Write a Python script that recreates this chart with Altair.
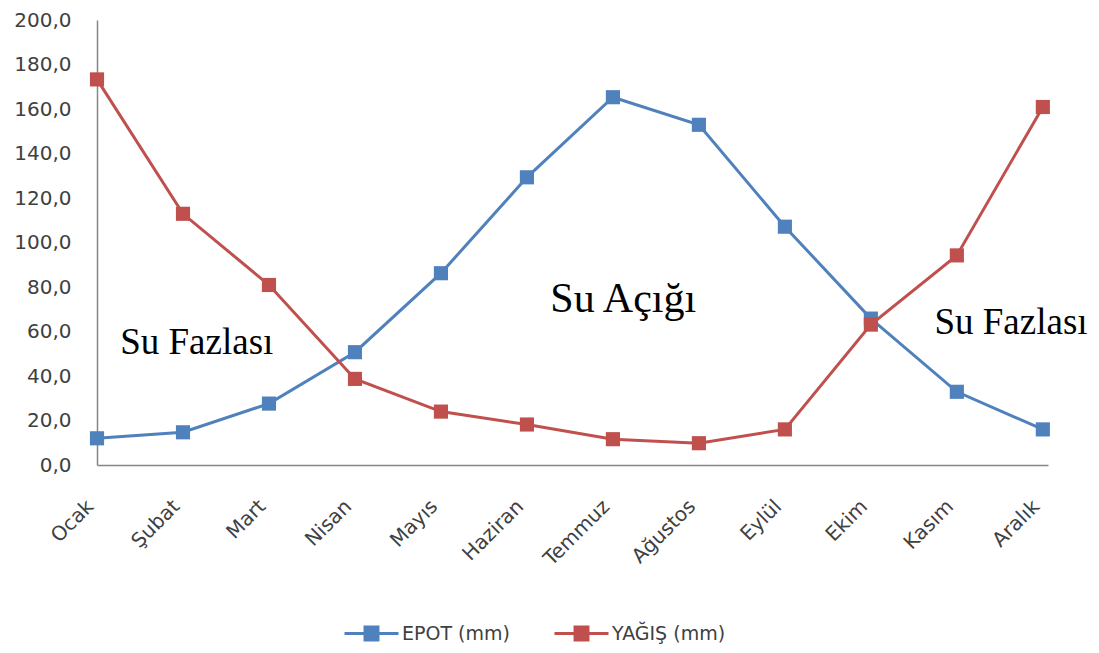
import altair as alt
import pandas as pd

months = ["Ocak", "Şubat", "Mart", "Nisan", "Mayıs", "Haziran",
          "Temmuz", "Ağustos", "Eylül", "Ekim", "Kasım", "Aralık"]
epot = [12.0, 14.7, 27.6, 50.7, 86.2, 129.3, 165.3, 152.9, 107.1, 65.8, 32.9, 16.0]
yagis = [173.3, 112.9, 80.9, 38.7, 24.0, 18.2, 11.6, 9.8, 16.0, 63.1, 94.2, 160.9]
series = ["EPOT (mm)", "YAĞIŞ (mm)"]
colors = ["#4F81BD", "#C0504D"]

ann_text = ["Su Fazlası", "Su Açığı", "Su Fazlası"]
ann_x = [1.16, 6.12, 10.63]
ann_y = [54.7, 74.7, 63.6]
ann_size = [37, 42, 37]

rows = []
for i, m in enumerate(months):
    rows.append({"idx": i, "ay": m, "seri": series[0], "deger": epot[i]})
    rows.append({"idx": i, "ay": m, "seri": series[1], "deger": yagis[i]})
df = pd.DataFrame(rows)
ann = pd.DataFrame({"t": ann_text, "x": ann_x, "y": ann_y, "s": ann_size})

label_expr = "[" + ",".join('"%s"' % m for m in months) + "][datum.value]"

x_enc = alt.X("idx:Q", scale=alt.Scale(domain=[0, 11.06], nice=False, zero=False),
              axis=alt.Axis(values=list(range(12)), labelExpr=label_expr, labelAngle=-45,
                            title=None, grid=False, ticks=False, labelPadding=38, labelOffset=-7,
                            labelFont="DejaVu Sans", labelFontSize=20, labelColor="#404040",
                            domainColor="#868686", domainWidth=1.5, labelAlign="right",
                            labelBaseline="middle", labelOverlap=False))
y_enc = alt.Y("deger:Q", scale=alt.Scale(domain=[0, 200], nice=False),
              axis=alt.Axis(values=list(range(0, 201, 20)), format=".1f", title=None, grid=False,
                            ticks=False, labelPadding=26, labelFont="DejaVu Sans", labelFontSize=20,
                            labelColor="#404040", domainColor="#868686", domainWidth=1.5))
color_enc = alt.Color("seri:N", scale=alt.Scale(domain=series, range=colors),
                      legend=alt.Legend(title=None, orient="none", direction="horizontal",
                                        legendX=246, legendY=585,
                                        symbolType="M-1,0L1,0M-0.24,-0.24L0.24,-0.24L0.24,0.24L-0.24,0.24Z",
                                        symbolSize=2916, symbolStrokeWidth=3,
                                        labelFont="DejaVu Sans", labelFontSize=19, labelColor="#404040",
                                        columnPadding=38, labelOffset=2))

base = alt.Chart(df)
lines = base.mark_line(strokeWidth=3).encode(x=x_enc, y=y_enc, color=color_enc,
                                             detail="seri:N")
points = base.mark_square(size=200, opacity=1, filled=True).encode(
    x=x_enc, y=y_enc, color=alt.Color("seri:N", scale=alt.Scale(domain=series, range=colors), legend=None))

text = alt.Chart(ann).mark_text(font="Liberation Serif", color="#000000").encode(
    x=alt.X("x:Q"), y=alt.Y("y:Q"), text="t:N",
    size=alt.Size("s:Q", scale=None, legend=None))

chart = (lines + points + text).properties(
    width=951, height=445,
    autosize=alt.AutoSizeParams(type="none"),
    padding={"left": 89, "top": 12, "right": 43, "bottom": 180}
).configure(
    view=alt.ViewConfig(stroke=None),
    locale={"number": {"decimal": ",", "thousands": ".", "grouping": [3], "currency": ["", ""]}}
)

chart.save("out.html", embed_options={"renderer": "svg", "actions": False})
